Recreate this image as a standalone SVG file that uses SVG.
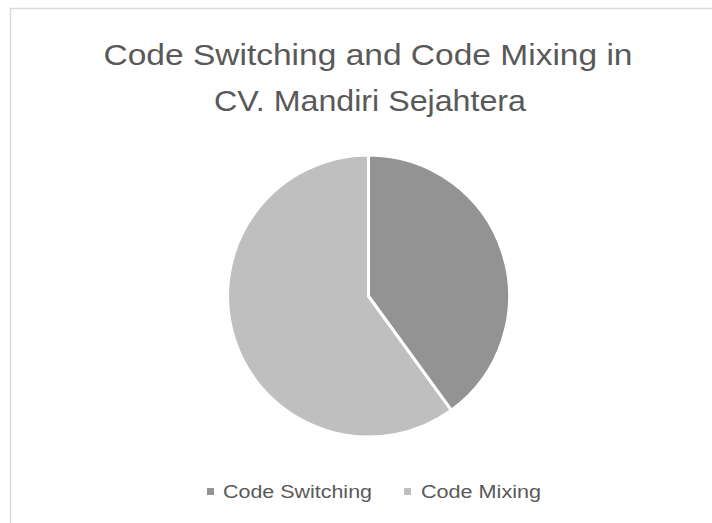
<svg xmlns="http://www.w3.org/2000/svg" width="712" height="523" viewBox="0 0 712 523">
<style>
.t{font-family:"Liberation Sans",Arial,sans-serif;fill:#595959}
.title{font-size:29px}
.leg{font-size:18px}
.slice{stroke:#ffffff;stroke-width:3;stroke-linejoin:round}
</style>
<rect width="712" height="523" fill="#ffffff"/>
<path d="M10.5 523 V8.5 H712" fill="none" stroke="#d9d9d9" stroke-width="1.5"/>
<g id="title">
<text class="t title" x="368" y="65" text-anchor="middle" textLength="529" lengthAdjust="spacingAndGlyphs">Code Switching and Code Mixing in</text>
<text class="t title" x="370" y="111" text-anchor="middle" textLength="312" lengthAdjust="spacingAndGlyphs">CV. Mandiri Sejahtera</text>
</g>
<g id="pie">
<g id="slice-code-mixing"><path class="slice" fill="#bfbfbf" d="M368.5 296 L451.4 410.1 A141 141 0 1 1 368.5 155 Z"/></g>
<g id="slice-code-switching"><path class="slice" fill="#939393" d="M368.5 296 L368.5 155 A141 141 0 0 1 451.4 410.1 Z"/></g>
</g>
<g id="legend">
<g id="legend-code-switching">
<rect x="207" y="488" width="7" height="7" fill="#939393"/>
<text class="t leg" x="223" y="498" textLength="149" lengthAdjust="spacingAndGlyphs">Code Switching</text>
</g>
<g id="legend-code-mixing">
<rect x="404" y="488" width="7" height="7" fill="#bfbfbf"/>
<text class="t leg" x="421" y="498" textLength="120" lengthAdjust="spacingAndGlyphs">Code Mixing</text>
</g>
</g>
</svg>
